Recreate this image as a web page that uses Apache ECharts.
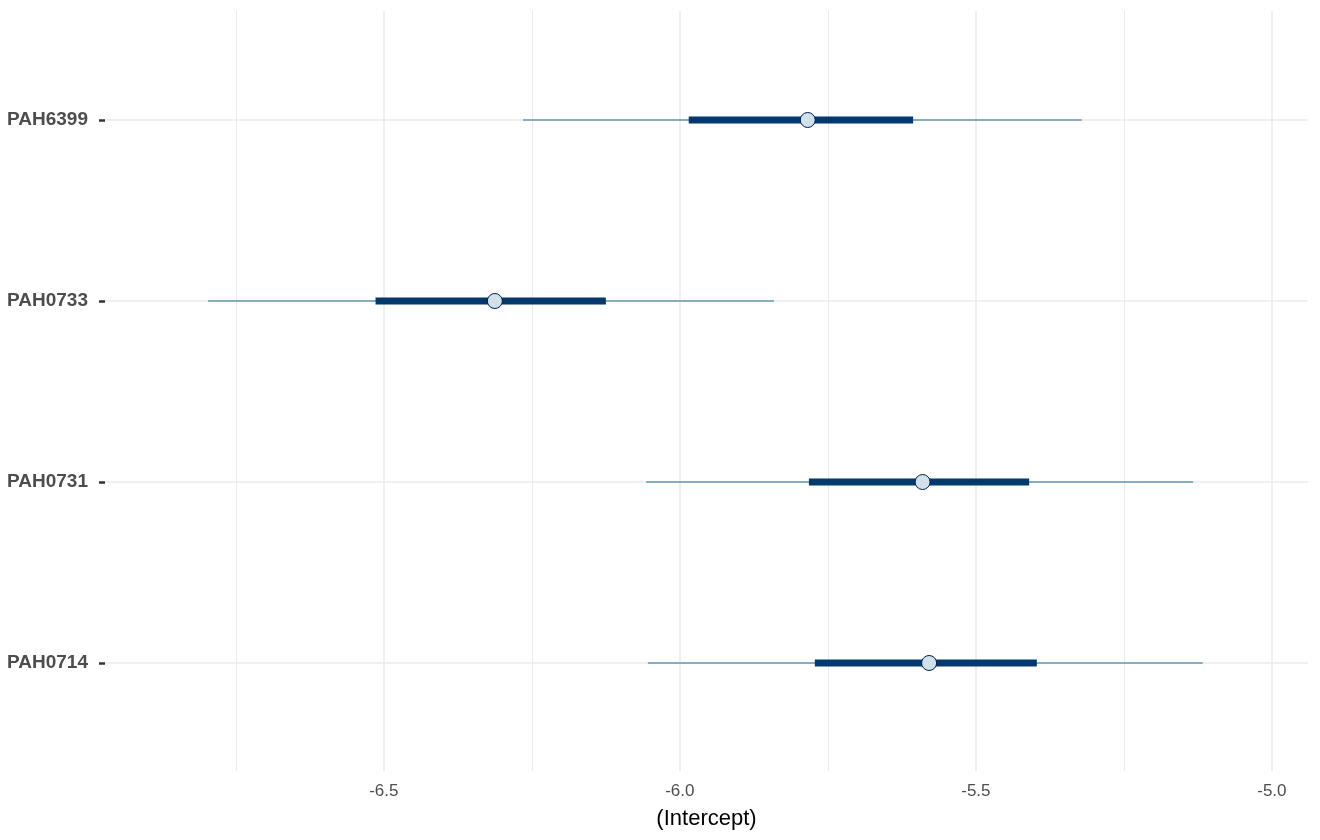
<!DOCTYPE html>
<html>
<head>
<meta charset="utf-8">
<script src="https://cdn.jsdelivr.net/npm/echarts@6/dist/echarts.min.js"></script>
<style>
  html, body { margin: 0; padding: 0; background: #fff; }
  #chart { width: 1320px; height: 840px; }
</style>
</head>
<body>
<div id="chart"></div>
<script>
// parameters, top to bottom
var params = ['PAH6399', 'PAH0733', 'PAH0731', 'PAH0714'];
// outer interval (thin line)
var outerLo = [-6.265, -6.797, -6.057, -6.054];
var outerHi = [-5.321, -5.841, -5.133, -5.117];
// inner interval (thick line)
var innerLo = [-5.985, -6.514, -5.782, -5.772];
var innerHi = [-5.606, -6.125, -5.410, -5.397];
// point estimate
var medians = [-5.784, -6.3125, -5.590, -5.579];
// x axis ticks
var majorTicks = [-6.5, -6.0, -5.5, -5.0];
var minorTicks = [-6.75, -6.25, -5.75, -5.25];

var xMin = -6.971, xMax = -4.939;

var chart = echarts.init(document.getElementById('chart'));

function segData(lo, hi) {
  var out = [];
  for (var i = 0; i < params.length; i++) out.push([lo[i], hi[i], i]);
  return out;
}

function segRender(color, width) {
  return function (p, api) {
    var a = api.coord([api.value(0), api.value(2)]);
    var b = api.coord([api.value(1), api.value(2)]);
    return {
      type: 'line',
      shape: { x1: a[0], y1: a[1], x2: b[0], y2: b[1] },
      style: { stroke: color, lineWidth: width }
    };
  };
}

var pts = [];
for (var i = 0; i < params.length; i++) pts.push([medians[i], i]);

var font = 'Liberation Sans, Arial, sans-serif';

chart.setOption({
  animation: false,
  backgroundColor: '#fff',
  grid: [
    { left: 105, right: 12, top: 11, height: 760 },
    { left: 105, right: 12, top: 120, height: 543 }
  ],
  xAxis: [
    {
      gridIndex: 0, type: 'value', min: xMin, max: xMax,
      axisLine: { show: false }, axisTick: { show: false }, splitLine: { show: false },
      axisLabel: {
        customValues: majorTicks, color: '#4d4d4d', fontSize: 17, margin: 12,
        fontFamily: font,
        formatter: function (v) { return v.toFixed(1); }
      },
      name: '(Intercept)', nameLocation: 'middle', nameGap: 37,
      nameTextStyle: { color: '#000', fontSize: 22, fontFamily: font }
    },
    {
      gridIndex: 1, type: 'value', min: xMin, max: xMax, show: false
    }
  ],
  yAxis: [
    { gridIndex: 0, type: 'value', min: 0, max: 1, show: false },
    {
      gridIndex: 1, type: 'value', min: 0, max: 3, interval: 1, inverse: true,
      axisLine: { show: false },
      axisTick: { show: true, length: 6, lineStyle: { color: '#333', width: 2.5 } },
      splitLine: { show: true, lineStyle: { color: '#ebebeb', width: 1.6 } },
      axisLabel: {
        margin: 17, color: '#4d4d4d', fontSize: 19, fontWeight: 'bold',
        fontFamily: font,
        showMinLabel: true, showMaxLabel: true,
        formatter: function (v) { return params[Math.round(v)] || ''; }
      }
    }
  ],
  series: [
    {
      type: 'line', xAxisIndex: 0, yAxisIndex: 0, data: [], silent: true, z: 0,
      markLine: {
        silent: true, symbol: ['none', 'none'], label: { show: false }, z: 0,
        lineStyle: { color: '#ebebeb', width: 1, type: 'solid' },
        data: minorTicks.map(function (v) { return { xAxis: v }; })
      }
    },
    {
      type: 'line', xAxisIndex: 0, yAxisIndex: 0, data: [], silent: true, z: 0,
      markLine: {
        silent: true, symbol: ['none', 'none'], label: { show: false }, z: 0,
        lineStyle: { color: '#ebebeb', width: 1.6, type: 'solid' },
        data: majorTicks.map(function (v) { return { xAxis: v }; })
      }
    },
    {
      type: 'custom', xAxisIndex: 1, yAxisIndex: 1,
      renderItem: segRender('#6497b1', 1.3),
      encode: { x: [0, 1], y: 2 },
      data: segData(outerLo, outerHi), z: 10
    },
    {
      type: 'custom', xAxisIndex: 1, yAxisIndex: 1,
      renderItem: segRender('#03396c', 7),
      encode: { x: [0, 1], y: 2 },
      data: segData(innerLo, innerHi), z: 11
    },
    {
      type: 'scatter', xAxisIndex: 1, yAxisIndex: 1, data: pts,
      symbol: 'circle', symbolSize: 15, z: 12,
      itemStyle: { color: '#d1e1ec', borderColor: '#011f4b', borderWidth: 1, opacity: 1 }
    }
  ]
});
</script>
</body>
</html>
